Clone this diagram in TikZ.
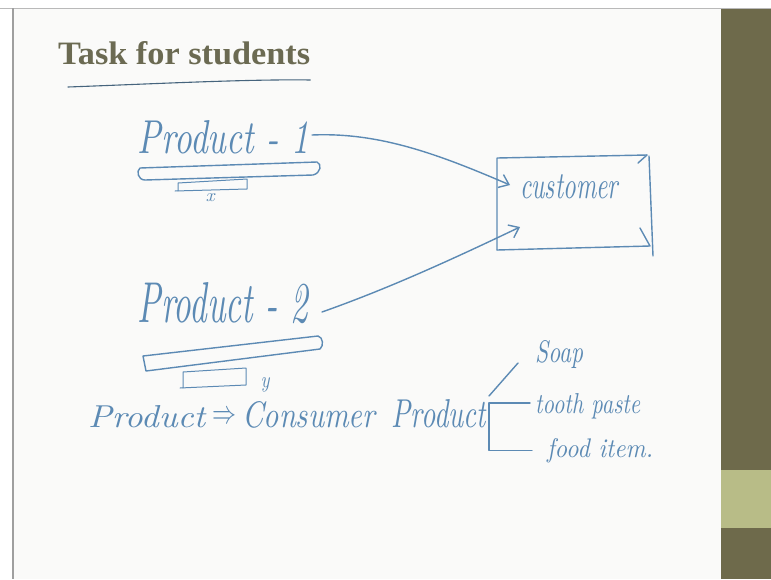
\documentclass[tikz,border=0pt]{standalone}
\usepackage{fontspec}
\usepackage{graphicx}
\usetikzlibrary{arrows.meta,calc}
\newfontfamily\titlefont{Liberation Serif}
\definecolor{ink}{RGB}{92,138,180}
\definecolor{titlecol}{RGB}{107,106,82}
\definecolor{olivebar}{RGB}{110,106,75}
\definecolor{sage}{RGB}{184,188,135}
\definecolor{rulecol}{RGB}{70,100,125}
\definecolor{slidebg}{RGB}{250,250,249}
% handwritten word: width, height above baseline, text
\newcommand\hw[3]{{\itshape\resizebox{#1}{#2}{#3}}}
\begin{document}
\begin{tikzpicture}[x=1pt,y=-1pt,
  hand/.style={inner sep=0pt,text=ink},
  pen/.style={draw=ink,line width=1.4pt,line cap=round,line join=round},
  barb/.style={-{Straight Barb[length=9pt,width=14pt,line width=1.4pt]}}]
\useasboundingbox (0,0) rectangle (771,579);
\fill[white] (0,0) rectangle (771,579);
% slide and side band
\fill[slidebg] (13,8) rectangle (721,579);
\fill[olivebar] (721,8) rectangle (771,579);
\fill[sage] (721,470) rectangle (771,528);
\draw[gray!55,line width=0.8pt] (0,8) -- (771,8);
\draw[gray!75,line width=1.2pt] (13,8) -- (13,579);

% title
\node[anchor=base west,inner sep=0pt,text=titlecol] (title) at (58,64)
  {\titlefont\bfseries\resizebox{252pt}{23pt}{Task for students}};
\draw[rulecol,line width=1.1pt,line cap=round]
  ($(title.base west)+(10,23)$) .. controls (150,84) and (250,79) .. ($(title.base east)+(0,16)$);

% product 1
\node[hand,anchor=base east] (p1) at (309,153) {\hw{171pt}{33pt}{Product - 1}};
\draw[pen] (140,168) -- (317,162) .. controls (322,164) and (321,173) .. (313,175)
  -- (145,180) .. controls (138,180) and (136,171) .. (140,168);
\draw[pen,line width=1pt] (175,191) -- (247,189) -- (247,179) -- (178,183) -- (178,191);
\node[hand] (xlab) at (210,198) {\hw{9pt}{8pt}{x}};

% customer box
\node[hand,anchor=base west] (cust) at (520,198) {\hw{98pt}{24pt}{customer}};
\draw[pen] (497,250) -- (497,158) -- (647,155);
\draw[pen] (638,163) -- (647,155);
\draw[pen] (649,156) -- (653,256);
\draw[pen] (640,228) -- (650,246) -- (497,250);

% product 2
\node[hand,anchor=base east] (p2) at (308,322) {\hw{170pt}{40pt}{Product - 2}};
\draw[pen] (143,356) -- (318,336) .. controls (323,337) and (324,346) .. (320,349)
  -- (146,371) -- (143,356);
\draw[pen,line width=1pt] (180,388) -- (246,385) -- (246,368) -- (183,372) -- (183,388);
\node[hand] (ylab) at (265,385) {\hw{9pt}{10pt}{y}};

% both products go to the customer
\draw[pen,barb] ($(p1.base east)+(3,-18)$) .. controls (380,132) and (440,155) .. ($(cust.base west)+(-10,-13)$);
\draw[pen,barb] ($(p2.base east)+(14,-10)$) .. controls (390,288) and (455,258) .. ($(cust.base west)+(0,29)$);

% product => consumer product
\node[hand,anchor=base west] (prod) at (88,427) {\hw{117pt}{22pt}{Product}};
\node[hand] (impl) at (224,417) {\resizebox{24pt}{12pt}{$\Rightarrow$}};
\node[hand,anchor=base west] (cons) at (242,427) {\hw{133pt}{26pt}{Consumer}};
\node[hand,anchor=base east] (cprod) at (486,427) {\hw{94pt}{28pt}{Product}};

% examples of consumer products
\node[hand,anchor=base west] (soap) at (535,362) {\hw{48pt}{22pt}{Soap}};
\node[hand,anchor=base west] (tooth) at (535,413) {\hw{105pt}{20pt}{tooth paste}};
\node[hand,anchor=base west] (food) at (547,457) {\hw{106pt}{19pt}{food item.}};
\coordinate (br) at ($(cprod.base east)+(3,-24)$);
\draw[pen] ($(br)+(0,-7)$) -- ($(soap.base west)+(-17,1)$);
\draw[pen] (br) -- ($(br -| tooth.west)+(-5,0)$);
\draw[pen] (br) |- ($(food.west)+(-15,0)$);
\end{tikzpicture}
\end{document}
